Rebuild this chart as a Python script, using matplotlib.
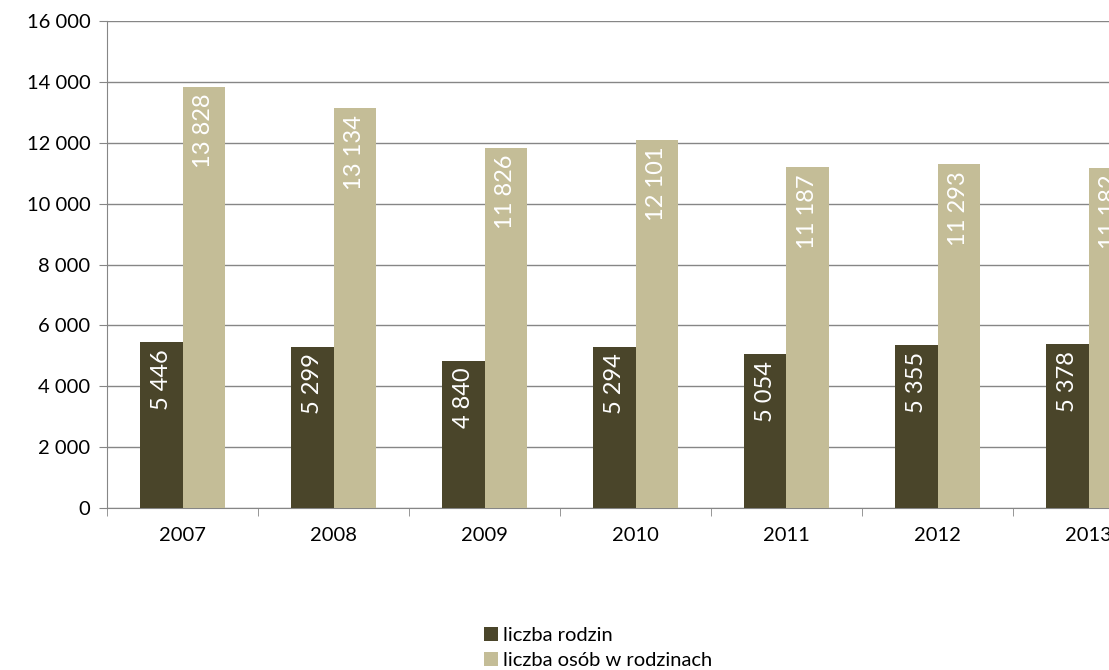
import numpy as np
import matplotlib.pyplot as plt
from matplotlib.ticker import FuncFormatter

years = ['2007', '2008', '2009', '2010', '2011', '2012', '2013']
rodziny = [5446, 5299, 4840, 5294, 5054, 5355, 5378]
osoby = [13828, 13134, 11826, 12101, 11187, 11293, 11182]

dark = '#4A452A'
light = '#C4BD97'

plt.rcParams['font.family'] = ['Lato', 'DejaVu Sans']

def fmt(v, pos=None):
    return f"{int(v):,}".replace(',', ' ')

fig = plt.figure(figsize=(11.09, 6.70), dpi=100)
# axes runs past the right edge, like the cropped original
ax = fig.add_axes([107 / 1109, (670 - 508) / 670, 1057 / 1109, 487 / 670])

x = np.arange(len(years))
w = 0.28
b1 = ax.bar(x - w / 2, rodziny, w, color=dark, label='liczba rodzin', zorder=3)
b2 = ax.bar(x + w / 2, osoby, w, color=light, label='liczba osób w rodzinach', zorder=3)

for bars in (b1, b2):
    for r in bars:
        h = r.get_height()
        ax.text(r.get_x() + r.get_width() / 2, h - 220, fmt(h), rotation=90,
                ha='center', va='top', color='white', fontsize=17, zorder=4)

ax.set_ylim(0, 16000)
ax.set_xlim(-0.5, len(years) - 0.5)
ax.set_yticks(range(0, 16001, 2000))
ax.yaxis.set_major_formatter(FuncFormatter(fmt))
ax.set_xticks(x)
ax.set_xticklabels(years)
ax.set_xticks(np.arange(-0.5, len(years), 1), minor=True)
ax.tick_params(axis='x', which='major', length=0, pad=14, labelsize=14.5)
ax.tick_params(axis='x', which='minor', length=6, color='#868686', direction='out')
ax.tick_params(axis='y', length=6, color='#868686', labelsize=14.5, pad=6)

ax.yaxis.grid(True, color='#868686', linewidth=1, zorder=0)
for s in ('top', 'right'):
    ax.spines[s].set_visible(False)
for s in ('left', 'bottom'):
    ax.spines[s].set_color('#868686')

fig.legend(handles=[b1, b2], loc='upper left', bbox_to_anchor=(474 / 1109, 1 - 617 / 670),
           frameon=False, fontsize=14.5, handlelength=0.7, handleheight=0.7,
           handletextpad=0.25, labelspacing=0.4, borderpad=0)

plt.savefig('out.png', dpi=100)
plt.close()
